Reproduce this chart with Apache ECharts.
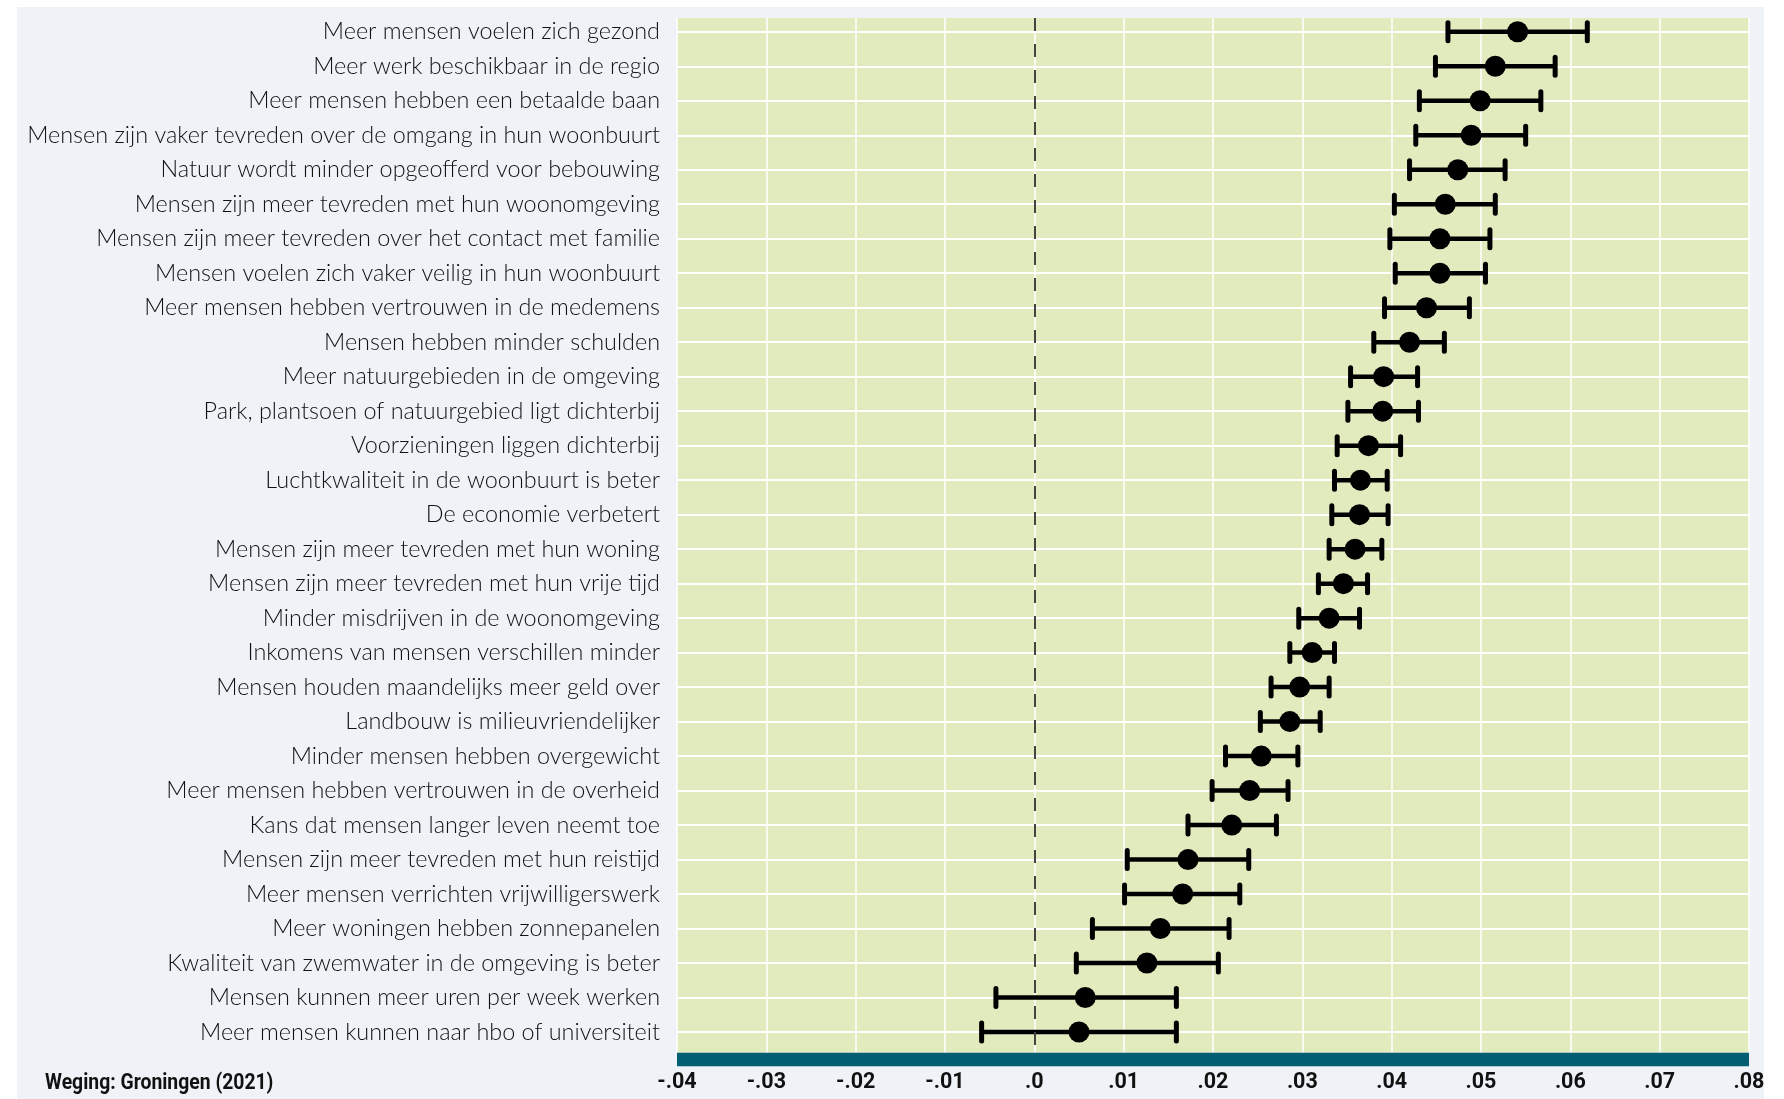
<!DOCTYPE html>
<html><head><meta charset="utf-8">
<script src="https://cdn.jsdelivr.net/npm/echarts@6/dist/echarts.min.js"></script>
<style>html,body{margin:0;padding:0;background:#fff}#c{width:1784px;height:1099px}</style>
</head><body><div id="c"></div>
<script>
const categories = [
  'Meer mensen voelen zich gezond',
  'Meer werk beschikbaar in de regio',
  'Meer mensen hebben een betaalde baan',
  'Mensen zijn vaker tevreden over de omgang in hun woonbuurt',
  'Natuur wordt minder opgeofferd voor bebouwing',
  'Mensen zijn meer tevreden met hun woonomgeving',
  'Mensen zijn meer tevreden over het contact met familie',
  'Mensen voelen zich vaker veilig in hun woonbuurt',
  'Meer mensen hebben vertrouwen in de medemens',
  'Mensen hebben minder schulden',
  'Meer natuurgebieden in de omgeving',
  'Park, plantsoen of natuurgebied ligt dichterbij',
  'Voorzieningen liggen dichterbij',
  'Luchtkwaliteit in de woonbuurt is beter',
  'De economie verbetert',
  'Mensen zijn meer tevreden met hun woning',
  'Mensen zijn meer tevreden met hun vrije tijd',
  'Minder misdrijven in de woonomgeving',
  'Inkomens van mensen verschillen minder',
  'Mensen houden maandelijks meer geld over',
  'Landbouw is milieuvriendelijker',
  'Minder mensen hebben overgewicht',
  'Meer mensen hebben vertrouwen in de overheid',
  'Kans dat mensen langer leven neemt toe',
  'Mensen zijn meer tevreden met hun reistijd',
  'Meer mensen verrichten vrijwilligerswerk',
  'Meer woningen hebben zonnepanelen',
  'Kwaliteit van zwemwater in de omgeving is beter',
  'Mensen kunnen meer uren per week werken',
  'Meer mensen kunnen naar hbo of universiteit'
];
const estimates = [0.0541,0.0516,0.0499,0.0489,0.0474,0.0460,0.0454,0.0454,0.0439,0.0420,
  0.0391,0.0390,0.0374,0.0365,0.0364,0.0359,0.0346,0.0330,0.0311,0.0297,
  0.0286,0.0254,0.0241,0.0221,0.0172,0.0166,0.0141,0.0126,0.0057,0.0050];
const lower = [0.0463,0.0449,0.0431,0.0427,0.0420,0.0403,0.0398,0.0404,0.0392,0.0380,
  0.0354,0.0351,0.0339,0.0336,0.0333,0.0330,0.0318,0.0296,0.0286,0.0265,
  0.0253,0.0214,0.0199,0.0172,0.0104,0.0101,0.0065,0.0047,-0.0043,-0.0059];
const upper = [0.0619,0.0583,0.0567,0.0550,0.0527,0.0516,0.0510,0.0505,0.0487,0.0459,
  0.0429,0.0430,0.0410,0.0395,0.0396,0.0389,0.0373,0.0364,0.0336,0.0330,
  0.0320,0.0295,0.0284,0.0271,0.0240,0.0230,0.0218,0.0206,0.0159,0.0159];
const xTickLabels = ['-.04','-.03','-.02','-.01','.0','.01','.02','.03','.04','.05','.06','.07','.08'];
const footnote = 'Weging: Groningen (2021)';

const rows = categories.map((c, i) => i + 1);
const BOLDFONT = 'Roboto, "Liberation Sans", sans-serif';

const chart = echarts.init(document.getElementById('c'), null, {renderer: 'canvas'});
chart.setOption({
  animation: false,
  backgroundColor: '#ffffff',
  graphic: [
    {
      type: 'rect', z: -10, silent: true,
      shape: {x: 17, y: 7, width: 1747, height: 1092},
      style: {fill: '#eff3f7'}
    },
    {
      type: 'text', z: 10, silent: true, x: 45, y: 1083, scaleX: 0.88,
      style: {
        text: footnote, fill: '#111', fontFamily: BOLDFONT, fontWeight: 'bold',
        fontSize: 22, verticalAlign: 'middle', align: 'left'
      }
    }
  ],
  grid: {
    left: 677, right: 35, top: 18, bottom: 46.3,
    show: true, backgroundColor: '#e2ebbe', borderWidth: 0
  },
  xAxis: {
    type: 'value', min: -0.04, max: 0.08, interval: 0.01,
    offset: 6.65,
    axisLine: {show: true, onZero: false, lineStyle: {color: '#025e73', width: 13.3, cap: 'butt'}},
    axisTick: {show: false},
    axisLabel: {
      margin: 12, fontFamily: BOLDFONT, fontWeight: 'bold', fontSize: 21.5, color: '#111',
      formatter: v => xTickLabels[Math.round((v + 0.04) / 0.01)]
    },
    splitLine: {show: true, lineStyle: {color: '#ffffff', width: 1.5}}
  },
  yAxis: {
    type: 'value', inverse: true, min: 0.6, max: 30.6,
    axisLine: {show: false},
    axisTick: {show: false, customValues: rows},
    axisLabel: {
      customValues: rows, margin: 17, fontFamily: 'Lato, "Liberation Sans", sans-serif',
      fontWeight: 300, fontSize: 23.4, color: '#111',
      formatter: v => categories[Math.round(v) - 1] || ''
    },
    splitLine: {show: true, lineStyle: {color: '#ffffff', width: 2}}
  },
  series: [
    {
      type: 'custom', z: 2,
      data: rows.map((r, i) => [lower[i], upper[i], r]),
      encode: {x: [0, 1], y: 2},
      renderItem: (params, api) => {
        const a = api.coord([api.value(0), api.value(2)]);
        const b = api.coord([api.value(1), api.value(2)]);
        const h = 9;
        return {
          type: 'group',
          children: [
            {type: 'line', shape: {x1: a[0], y1: a[1], x2: b[0], y2: b[1]},
             style: {stroke: '#000', lineWidth: 4.5}},
            {type: 'line', shape: {x1: a[0], y1: a[1] - h, x2: a[0], y2: a[1] + h},
             style: {stroke: '#000', lineWidth: 5, lineCap: 'round'}},
            {type: 'line', shape: {x1: b[0], y1: b[1] - h, x2: b[0], y2: b[1] + h},
             style: {stroke: '#000', lineWidth: 5, lineCap: 'round'}}
          ]
        };
      },
      markLine: {
        silent: true, symbol: 'none', label: {show: false},
        lineStyle: {type: [13, 13], color: '#444', width: 2},
        data: [{xAxis: 0}]
      }
    },
    {
      type: 'scatter', z: 3,
      symbol: 'circle', symbolSize: 21,
      itemStyle: {color: '#000', opacity: 1},
      data: rows.map((r, i) => [estimates[i], r])
    }
  ]
});
</script>
</body></html>
